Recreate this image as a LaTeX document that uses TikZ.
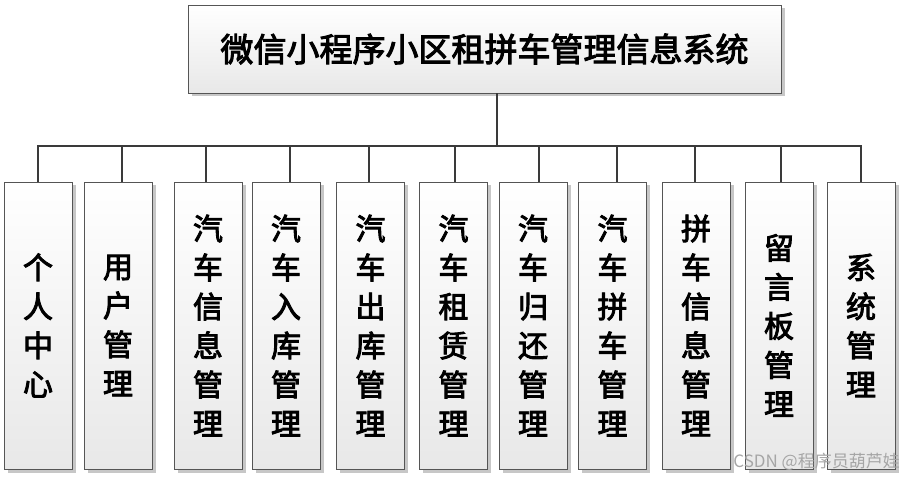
\documentclass[tikz,border=0pt]{standalone}
\usepackage{fontspec}
\newfontfamily\cjk{Noto Sans CJK SC}[FakeBold=3]
\newfontfamily\cjkw{Noto Sans CJK SC}
\usetikzlibrary{shadows,calc}
\definecolor{bordc}{HTML}{555555}
\definecolor{connc}{HTML}{3A3A3A}
\tikzset{
  box/.style={draw=bordc, line width=0.8pt, top color=white, bottom color=black!9,
    drop shadow={shadow xshift=3.5pt, shadow yshift=-3.5pt, fill=black!22, opacity=1},
    minimum width=68pt, minimum height=287pt, inner sep=0pt, align=center,
    font=\cjk\fontsize{30}{39}\selectfont},
  rootbox/.style={draw=bordc, line width=0.8pt, top color=white, bottom color=black!9,
    drop shadow={shadow xshift=3.5pt, shadow yshift=-3.5pt, fill=black!22, opacity=1},
    minimum width=593pt, minimum height=88pt, inner sep=0pt,
    font=\cjk\fontsize{33}{40}\selectfont},
  conn/.style={draw=connc, line width=2.6pt},
  wm/.style={font=\cjkw\fontsize{17}{18}\selectfont, text=black!35, inner sep=0pt}
}
\begin{document}
\begin{tikzpicture}[x=1pt,y=-1pt]
\useasboundingbox[fill=white] (0,0) rectangle (904,478);
\node[rootbox] (root) at (484.5,49) {微信小程序小区租拼车管理信息系统};
\node[box] (b1) at (38,325.5) {个\\人\\中\\心};
\node[box] (b2) at (118,325.5) {用\\户\\管\\理};
\node[box] (b3) at (208,325.5) {汽\\车\\信\\息\\管\\理};
\node[box] (b4) at (286,325.5) {汽\\车\\入\\库\\管\\理};
\node[box] (b5) at (370.5,325.5) {汽\\车\\出\\库\\管\\理};
\node[box] (b6) at (453.5,325.5) {汽\\车\\租\\赁\\管\\理};
\node[box] (b7) at (533,325.5) {汽\\车\\归\\还\\管\\理};
\node[box] (b8) at (612.5,325.5) {汽\\车\\拼\\车\\管\\理};
\node[box] (b9) at (696,325.5) {拼\\车\\信\\息\\管\\理};
\node[box] (b10) at (779,325.5) {留\\言\\板\\管\\理};
\node[box] (b11) at (861,325.5) {系\\统\\管\\理};
\coordinate (bus) at (497,146);
\draw[conn] ([xshift=12.5pt]root.south) -- (bus);
\draw[conn] (b1.north) |- (bus);
\draw[conn] ([xshift=4pt]b2.north) |- (bus);
\draw[conn] ([xshift=-2pt]b3.north) |- (bus);
\draw[conn] ([xshift=4pt]b4.north) |- (bus);
\draw[conn] ([xshift=-1.5pt]b5.north) |- (bus);
\draw[conn] ([xshift=1.5pt]b6.north) |- (bus);
\draw[conn] ([xshift=6pt]b7.north) |- (bus);
\draw[conn] ([xshift=4.5pt]b8.north) |- (bus);
\draw[conn] ([xshift=-1pt]b9.north) |- (bus);
\draw[conn] ([xshift=2pt]b10.north) |- (bus);
\draw[conn] (b11.north) |- (bus);
\node[wm, anchor=east] (wmark) at (900,462) {CSDN @程序员葫芦娃};
\end{tikzpicture}
\end{document}
